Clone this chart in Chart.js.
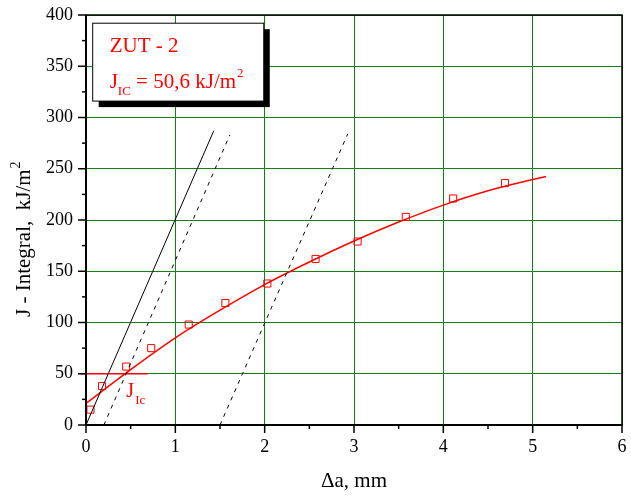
<!DOCTYPE html>
<html>
<head>
<meta charset="utf-8">
<script src="https://cdn.jsdelivr.net/npm/chart.js@4/dist/chart.umd.min.js"></script>
<style>
  html, body { margin: 0; padding: 0; background: #fff; }
  canvas { display: block; }
</style>
</head>
<body>
<canvas id="chart" width="631" height="498"></canvas>
<script>
// measured points
const crackGrowth = [0.05, 0.18, 0.45, 0.73, 1.15, 1.56, 2.03, 2.57, 3.04, 3.58, 4.11, 4.69];
const jValues = [15, 38, 57, 75, 98, 119, 138, 162, 179, 203, 221, 236];

// fitted R-curve
const fitX = [0, 0.5, 1, 1.5, 2, 2.5, 3, 3.5, 4, 4.5, 5, 5.15];
const fitJ = [21, 54, 85, 112, 137, 159, 179.5, 198, 214.5, 228.5, 239.5, 242.5];

// blunting line and offset lines
const bluntX = [0, 1.43];
const bluntJ = [0, 287];
const offset1X = [0.2, 1.61];
const offset1J = [0, 283];
const offset2X = [1.5, 2.93];
const offset2J = [0, 284];

// J_Ic level
const jIcX = [-0.06, 0.69];
const jIcJ = [50, 50];

const xTickLabels = ["0", "1", "2", "3", "4", "5", "6"];
const yTickLabels = ["0", "50", "100", "150", "200", "250", "300", "350", "400"];

const RED = "#ff0000";
const GREEN = "rgb(20,128,20)";
const FONT = "'Liberation Serif', 'Times New Roman', serif";

const pts = (xs, ys) => xs.map((x, i) => ({ x: x, y: ys[i] }));

const decorations = {
  id: "decorations",
  afterDraw(chart) {
    const ctx = chart.ctx;
    const xs = chart.scales.x;
    const ys = chart.scales.y;
    const area = chart.chartArea;
    ctx.save();

    // frame
    ctx.strokeStyle = "#000";
    ctx.lineWidth = 1.5;
    ctx.strokeRect(area.left, area.top, area.right - area.left, area.bottom - area.top);
    ctx.lineWidth = 2;
    ctx.beginPath();
    ctx.moveTo(area.left, area.top);
    ctx.lineTo(area.left, area.bottom);
    ctx.lineTo(area.right, area.bottom);
    ctx.stroke();

    // tick marks, major and minor, outward
    ctx.lineWidth = 1.5;
    for (let v = 0; v <= 6; v += 0.5) {
      const px = xs.getPixelForValue(v);
      const len = Number.isInteger(v) ? 8 : 4;
      ctx.beginPath();
      ctx.moveTo(px, area.bottom);
      ctx.lineTo(px, area.bottom + len);
      ctx.stroke();
    }
    for (let v = 0; v <= 400; v += 25) {
      const py = ys.getPixelForValue(v);
      const len = v % 50 === 0 ? 8 : 4;
      ctx.beginPath();
      ctx.moveTo(area.left, py);
      ctx.lineTo(area.left - len, py);
      ctx.stroke();
    }

    // axis titles
    ctx.fillStyle = "#000";
    ctx.font = "21px " + FONT;
    ctx.textBaseline = "alphabetic";
    ctx.textAlign = "left";
    ctx.fillText("\u0394a, mm", 321, 487);

    ctx.save();
    ctx.translate(30, 317);
    ctx.rotate(-Math.PI / 2);
    const yTitle = "J - Integral,  kJ/m";
    ctx.fillText(yTitle, 0, 0);
    const w = ctx.measureText(yTitle).width;
    ctx.font = "14px " + FONT;
    ctx.fillText("2", w + 1, -10);
    ctx.restore();

    // info box with shadow
    const bx0 = xs.getPixelForValue(0.075);
    const bx1 = xs.getPixelForValue(1.99);
    const by0 = ys.getPixelForValue(392);
    const by1 = ys.getPixelForValue(316);
    ctx.fillStyle = "#000";
    ctx.fillRect(bx0 + 6, by0 + 6, bx1 - bx0, by1 - by0);
    ctx.fillStyle = "#fff";
    ctx.fillRect(bx0, by0, bx1 - bx0, by1 - by0);
    ctx.strokeStyle = "#000";
    ctx.lineWidth = 1;
    ctx.strokeRect(bx0, by0, bx1 - bx0, by1 - by0);

    ctx.fillStyle = RED;
    ctx.font = "21px " + FONT;
    ctx.fillText("ZUT - 2", bx0 + 17, by0 + 29);
    let tx = bx0 + 17;
    const ty = by0 + 65;
    ctx.fillText("J", tx, ty);
    tx += ctx.measureText("J").width;
    ctx.font = "13px " + FONT;
    ctx.fillText("IC", tx, ty + 7);
    tx += ctx.measureText("IC").width;
    ctx.font = "21px " + FONT;
    ctx.fillText(" = 50,6 kJ/m", tx, ty);
    tx += ctx.measureText(" = 50,6 kJ/m").width;
    ctx.font = "13px " + FONT;
    ctx.fillText("2", tx + 1, ty - 11);

    // J_Ic label
    const lx = xs.getPixelForValue(0.45);
    const ly = ys.getPixelForValue(27);
    ctx.font = "20px " + FONT;
    ctx.fillText("J", lx, ly);
    ctx.font = "13px " + FONT;
    ctx.fillText("Ic", lx + ctx.measureText("J").width + 4, ly + 7);

    ctx.restore();
  }
};

new Chart(document.getElementById("chart"), {
  type: "scatter",
  data: {
    datasets: [
      {
        data: pts(bluntX, bluntJ),
        showLine: true,
        borderColor: "#000",
        borderWidth: 1,
        pointRadius: 0
      },
      {
        data: pts(offset1X, offset1J),
        showLine: true,
        borderColor: "#000",
        borderWidth: 1,
        borderDash: [4, 5],
        pointRadius: 0
      },
      {
        data: pts(offset2X, offset2J),
        showLine: true,
        borderColor: "#000",
        borderWidth: 1,
        borderDash: [4, 5],
        pointRadius: 0
      },
      {
        data: pts(jIcX, jIcJ),
        showLine: true,
        borderColor: RED,
        borderWidth: 1.5,
        pointRadius: 0,
        clip: false
      },
      {
        data: pts(fitX, fitJ),
        showLine: true,
        borderColor: RED,
        borderWidth: 1.5,
        cubicInterpolationMode: "monotone",
        pointRadius: 0
      },
      {
        data: pts(crackGrowth, jValues),
        showLine: false,
        pointStyle: "rect",
        pointRadius: 5,
        borderColor: RED,
        borderWidth: 1,
        backgroundColor: "rgba(255,255,255,0)"
      }
    ]
  },
  options: {
    responsive: false,
    animation: false,
    layout: { padding: { top: 15, right: 9, left: 0, bottom: 0 } },
    plugins: {
      legend: { display: false },
      tooltip: { enabled: false }
    },
    scales: {
      x: {
        type: "linear",
        min: 0,
        max: 6,
        afterFit: (s) => { s.height = 73; s.paddingLeft = 0; s.paddingRight = 0; },
        ticks: {
          stepSize: 1,
          padding: 11,
          color: "#000",
          font: { family: FONT, size: 18 },
          callback: (v) => xTickLabels[Math.round(v)]
        },
        grid: { color: GREEN, lineWidth: 1, drawTicks: false },
        border: { display: false }
      },
      y: {
        type: "linear",
        min: 0,
        max: 400,
        afterFit: (s) => { s.width = 86; s.paddingTop = 0; s.paddingBottom = 0; },
        ticks: {
          stepSize: 50,
          padding: 13,
          color: "#000",
          font: { family: FONT, size: 18 },
          callback: (v) => yTickLabels[Math.round(v / 50)]
        },
        grid: { color: GREEN, lineWidth: 1, drawTicks: false },
        border: { display: false }
      }
    }
  },
  plugins: [decorations]
});
</script>
</body>
</html>
